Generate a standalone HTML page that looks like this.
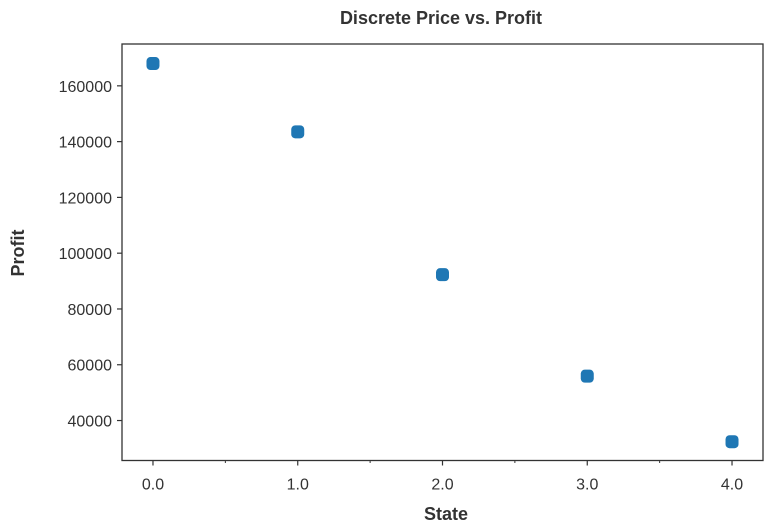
<!DOCTYPE html>
<html><head><meta charset="utf-8"><style>
html,body{margin:0;padding:0;background:#fff;}
svg{display:block;font-family:"Liberation Sans",sans-serif;}
</style></head><body>
<svg id="chart" width="775" height="526">
<text x="441" y="24" text-anchor="middle" font-size="18" font-weight="bold" fill="#333">Discrete Price vs. Profit</text>
<text x="446" y="520" text-anchor="middle" font-size="18" font-weight="bold" fill="#333">State</text>
<text transform="translate(24,253) rotate(-90)" text-anchor="middle" font-size="18" font-weight="bold" fill="#333">Profit</text>
<g id="ticks"></g>
<g id="points"></g>
<rect x="122" y="44" width="641" height="416.5" fill="none" stroke="#333" stroke-width="1.3"/>
</svg>
<script>
const states=[0,1,2,3,4];
const profits=[168000,143500,92300,55900,32400];
const xTicks=[0,1,2,3,4];
const xTickLabels=["0.0","1.0","2.0","3.0","4.0"];
const xMinorTicks=[0.5,1.5,2.5,3.5];
const yTicks=[40000,60000,80000,100000,120000,140000,160000];
const L=122,R=763,T=44,B=460.5;
const xMin=-0.214,xMax=4.214,yMin=25670,yMax=175000;
const xs=v=>L+(v-xMin)/(xMax-xMin)*(R-L);
const ys=v=>B-(v-yMin)/(yMax-yMin)*(B-T);
const NS="http://www.w3.org/2000/svg";
const tg=document.getElementById('ticks'),pg=document.getElementById('points');
function mk(tag,attrs,parent){const e=document.createElementNS(NS,tag);for(const k in attrs)e.setAttribute(k,attrs[k]);parent.appendChild(e);return e;}
xTicks.forEach((v,i)=>{
 const x=xs(v);
 const l=mk('line',{x1:x,x2:x,y1:B,y2:B+5,stroke:'#333','stroke-width':1.2},tg);
 
 
 const t=mk('text',{x:x,y:B+29,'text-anchor':'middle','font-size':16,fill:'#333'},tg);
 t.textContent=xTickLabels[i];
 
 
});
xMinorTicks.forEach(v=>{
 const x=xs(v);
 const l=mk('line',{x1:x,x2:x,y1:B,y2:B+2.5,stroke:'#333','stroke-width':1},tg);
 
 
});
yTicks.forEach(v=>{
 const y=ys(v);
 const l=mk('line',{x1:L-5,x2:L,y1:y,y2:y,stroke:'#333','stroke-width':1.2},tg);
 
 
 const t=mk('text',{x:L-10,y:y+6,'text-anchor':'end','font-size':16,fill:'#333'},tg);
 t.textContent=String(v);
 
 
});
states.forEach((s,i)=>{
 const x=xs(s),y=ys(profits[i]);
 const r=mk('rect',{x:x-6.5,y:y-6.5,width:13,height:13,rx:4,fill:'#1f77b4'},pg);
 
 
});
</script>
</body></html>
